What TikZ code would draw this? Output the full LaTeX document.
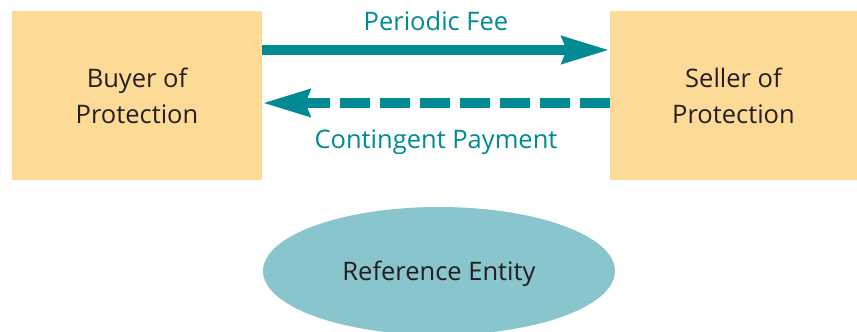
\documentclass[tikz,border=0pt]{standalone}
\usepackage{fontspec}
\setmainfont{Open Sans}
\usetikzlibrary{arrows.meta,shapes.geometric}

\definecolor{boxfill}{HTML}{FDDB97}
\definecolor{flowteal}{HTML}{008B94}
\definecolor{entityfill}{HTML}{88C5CC}
\definecolor{inktext}{HTML}{231F20}

\begin{document}
\begin{tikzpicture}[x=1pt,y=-1pt,
  partybox/.style={draw=none, fill=boxfill, rectangle, inner sep=0pt,
    minimum width=250pt, minimum height=169pt, align=center,
    text=inktext, font=\fontsize{25.5}{36}\selectfont},
  entitynode/.style={draw=none, fill=entityfill, ellipse, inner sep=0pt,
    minimum width=352pt, minimum height=128pt, text depth=0pt,
    text=inktext, font=\fontsize{25.5}{30}\selectfont},
  flow/.style={draw=flowteal, line width=10.5pt,
    -{Stealth[length=47pt, width=26pt, inset=4pt, fill=flowteal]}},
  flowlabel/.style={text=flowteal, font=\fontsize{25.5}{30}\selectfont,
    anchor=base, inner sep=0pt}
]
  \useasboundingbox (0,0) rectangle (857,332);

  % the two counterparties
  \node[partybox] (buyer)  at (137,95.5) {Buyer of\\Protection};
  \node[partybox, minimum width=247pt] (seller) at (733.5,95.5) {Seller of\\Protection};

  % the underlying reference entity
  \node[entitynode] (entity) at (439,271) {Reference Entity};

  % premium leg and contingent leg
  \draw[flow] (buyer.east |- 0,50) -- (seller.west |- 0,50)
    node[flowlabel, midway, yshift=20pt] (fee) {Periodic Fee};
  \draw[flow, dash pattern=on 30pt off 10pt] (seller.west |- 0,103) -- (buyer.east |- 0,103)
    node[flowlabel, midway, yshift=-45pt] (payment) {Contingent Payment};
\end{tikzpicture}
\end{document}
